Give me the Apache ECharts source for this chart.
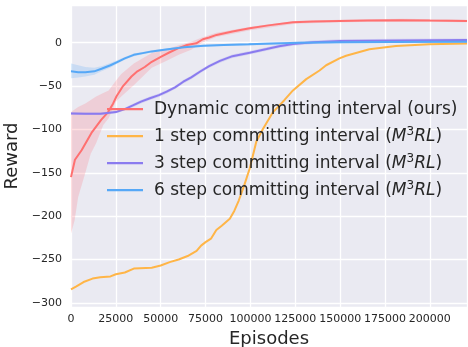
<!DOCTYPE html>
<html>
<head>
<meta charset="utf-8">
<script src="https://cdn.jsdelivr.net/npm/echarts@6/dist/echarts.min.js"></script>
<style>
html,body{margin:0;padding:0;background:#fff;}
#c{width:468px;height:347px;}
</style>
</head>
<body>
<div id="c"></div>
<script>
// ---- data ----
const seriesNames = [
  'Dynamic committing interval (ours)',
  '1 step committing interval (M3RL)',
  '3 step committing interval (M3RL)',
  '6 step committing interval (M3RL)'
];

const dynX = [0, 2200, 5900, 11400, 16800, 20700, 23500, 25300, 29000, 33700, 37000, 41100, 45000, 50300, 55000, 59600, 64000, 69800, 73500, 77000, 81100, 90000, 99600, 110000, 123700, 135000, 149600, 165000, 183000, 200000, 220700];
const dynY = [-155, -135, -124, -104, -89, -80, -70, -62, -50, -39, -33, -28, -22, -16, -11, -6.5, -3, -0.7, 4, 6, 9, 13, 16.6, 20, 23.5, 24.5, 25, 25.5, 26, 25.5, 25];
const dynBandX = [0, 2000, 4000, 8000, 11000, 14000, 18000, 21000, 25000, 28000, 35000, 45000, 53000, 60000, 67000, 73000, 81000, 100000, 125000, 150000, 185000, 220700];
const dynLo = [-220, -205, -178, -150, -128, -116, -95, -87, -68, -62, -49, -29, -21, -14, -8, 0, 6.5, 14.5, 22, 23.5, 24.5, 23.5];
const dynHi = [-80, -77, -74, -70, -66, -62, -58, -55, -44, -36, -24, -12, -8, -3, 1, 6, 11.5, 18.5, 25, 26.5, 27.5, 26.5];

const oneX = [0, 3000, 7000, 12000, 16300, 22000, 25000, 30000, 35000, 45000, 50000, 55000, 60000, 65000, 70000, 72500, 75000, 78000, 81000, 84000, 88500, 91000, 93500, 96300, 99600, 103300, 106800, 112600, 116300, 119000, 123700, 131100, 138500, 142200, 149600, 153300, 166300, 181100, 199600, 220700];
const oneY = [-284.5, -281, -276, -272, -270.5, -269.5, -267, -265, -260.5, -259.5, -257, -253, -250, -246, -240, -234, -230, -226, -216, -211, -203, -194, -182, -166, -145, -114, -100, -80, -72, -66, -55, -42, -32, -26, -18, -15, -7.6, -3.8, -1.9, -0.8];

const thrX = [0, 8000, 16500, 25000, 30000, 34800, 39000, 44000, 49000, 53300, 58000, 62600, 67000, 71800, 77000, 83000, 90000, 99600, 109000, 116000, 123700, 135000, 150000, 185000, 220700];
const thrY = [-81.5, -82, -82, -80, -76.5, -72, -68, -64, -60.5, -56.5, -51.5, -45, -40, -33.5, -27, -21, -15.5, -11.5, -7.3, -4, -1.5, 0.5, 2, 2.7, 3];
const thrLo = [-83, -83.5, -83.5, -81.5, -78, -74, -70, -66, -62.5, -58.5, -53.5, -47, -42, -35.5, -29, -23, -17.5, -13.5, -9.3, -6, -3.5, -1.5, 0, 0.7, 1];
const thrHi = [-80, -80.5, -80.5, -78.5, -75, -70, -66, -62, -58.5, -54.5, -49.5, -43, -38, -31.5, -25, -19, -13.5, -9.5, -5.3, -2, 0.5, 2.5, 4, 4.7, 5];

const sixX = [0, 4000, 8000, 13000, 17000, 22000, 26000, 30000, 35000, 40000, 45000, 54000, 63000, 74000, 85000, 99000, 113000, 127000, 150000, 180000, 220700];
const sixY = [-33, -34, -34, -33, -30, -26, -22, -18, -14, -12, -10, -7.6, -5.3, -3.4, -2.6, -1.9, -0.8, 0, 0.5, 0.8, 1];
const sixLo = [-41, -40, -39, -37, -33, -28.5, -24, -19.5, -15.5, -13.3, -11.3, -8.8, -6.5, -4.6, -3.8, -3.1, -2, -1.2, -0.7, -0.4, -0.2];
const sixHi = [-24, -26, -28, -29, -27, -23.5, -20, -16.5, -12.5, -10.7, -8.7, -6.4, -4.1, -2.2, -1.4, -0.7, 0.4, 1.2, 1.7, 2, 2.2];

const xTickStep = 25000;
const xMax = 220700;
const yMin = -304.8;
const yMax = 43.5;

// ---- styling ----
const colors = ['#ff7070', '#ffb547', '#8a7bef', '#56a8f7'];
const bandColors = ['rgba(255,110,120,0.22)', 'rgba(255,180,70,0.2)', 'rgba(138,123,239,0.22)', 'rgba(86,168,247,0.22)'];
const FONT = 'DejaVu Sans';
const TXT = '#262626';

function pairs(xs, ys) { return xs.map((x, i) => [x, ys[i]]); }

function bandSeries(xs, lo, hi, color) {
  return {
    type: 'custom',
    silent: true,
    z: 1,
    clip: true,
    data: [[0, 0]],
    renderItem: function (params, api) {
      const pts = [];
      for (let i = 0; i < xs.length; i++) pts.push(api.coord([xs[i], hi[i]]));
      for (let i = xs.length - 1; i >= 0; i--) pts.push(api.coord([xs[i], lo[i]]));
      return { type: 'polygon', shape: { points: pts }, style: { fill: color } };
    }
  };
}

function lineSeries(name, xs, ys, color) {
  return {
    name: name,
    type: 'line',
    data: pairs(xs, ys),
    showSymbol: false,
    symbol: 'none',
    z: 3,
    color: color,
    lineStyle: { color: color, width: 2 },
    emphasis: { disabled: true }
  };
}

const chart = echarts.init(document.getElementById('c'), null, { renderer: 'canvas' });

chart.setOption({
  animation: false,
  grid: {
    left: 71, right: 1, top: 5, bottom: 40,
    outerBoundsMode: 'none',
    containLabel: false,
    show: true, backgroundColor: '#eaeaf2', borderWidth: 0
  },
  legend: {
    data: seriesNames,
    orient: 'vertical',
    left: 107, top: 100.7,
    padding: 0,
    itemGap: 8.5,
    itemWidth: 36,
    itemHeight: 2.2,
    icon: 'rect',
    selectedMode: false,
    textStyle: {
      fontFamily: FONT, fontSize: 17, color: TXT, padding: [0, 0, 0, 6],
      rich: {
        n: { fontFamily: FONT, fontSize: 17, color: TXT, lineHeight: 20 },
        i: { fontFamily: FONT, fontSize: 17, color: TXT, fontStyle: 'italic', lineHeight: 20 },
        s: { fontFamily: FONT, fontSize: 12, color: TXT, lineHeight: 10, verticalAlign: 'top' }
      }
    },
    formatter: function (name) {
      const m = name.match(/^(.*)\(M3RL\)$/);
      if (m) return '{n|' + m[1] + '(}{i|M}{s|3}{i|RL}{n|)}';
      return '{n|' + name + '}';
    }
  },
  xAxis: {
    type: 'value',
    min: 0, max: xMax, interval: xTickStep,
    name: 'Episodes', nameLocation: 'middle', nameGap: 21,
    nameTextStyle: { fontFamily: FONT, fontSize: 18, color: TXT },
    axisLine: { show: false }, axisTick: { show: false },
    axisLabel: {
      fontFamily: FONT, fontSize: 11, color: TXT, margin: 7, showMaxLabel: false,
      formatter: function (v) { return String(Math.round(v)); }
    },
    splitLine: { show: true, lineStyle: { color: '#ffffff', width: 1.3 } }
  },
  yAxis: {
    type: 'value',
    min: yMin, max: yMax,
    name: 'Reward', nameLocation: 'middle', nameGap: 46,
    nameTextStyle: { fontFamily: FONT, fontSize: 18, color: TXT },
    axisLine: { show: false }, axisTick: { show: false },
    axisLabel: {
      fontFamily: FONT, fontSize: 11, color: TXT, margin: 9,
      showMinLabel: false, showMaxLabel: false,
      formatter: function (v) { return String(v).replace('-', '\u2212'); }
    },
    splitLine: { show: true, lineStyle: { color: '#ffffff', width: 1.3 } }
  },
  series: [
    bandSeries(dynBandX, dynLo, dynHi, bandColors[0]),
    bandSeries(thrX, thrLo, thrHi, bandColors[2]),
    bandSeries(sixX, sixLo, sixHi, bandColors[3]),
    lineSeries(seriesNames[0], dynX, dynY, colors[0]),
    lineSeries(seriesNames[1], oneX, oneY, colors[1]),
    lineSeries(seriesNames[2], thrX, thrY, colors[2]),
    lineSeries(seriesNames[3], sixX, sixY, colors[3])
  ]
});
</script>
</body>
</html>
